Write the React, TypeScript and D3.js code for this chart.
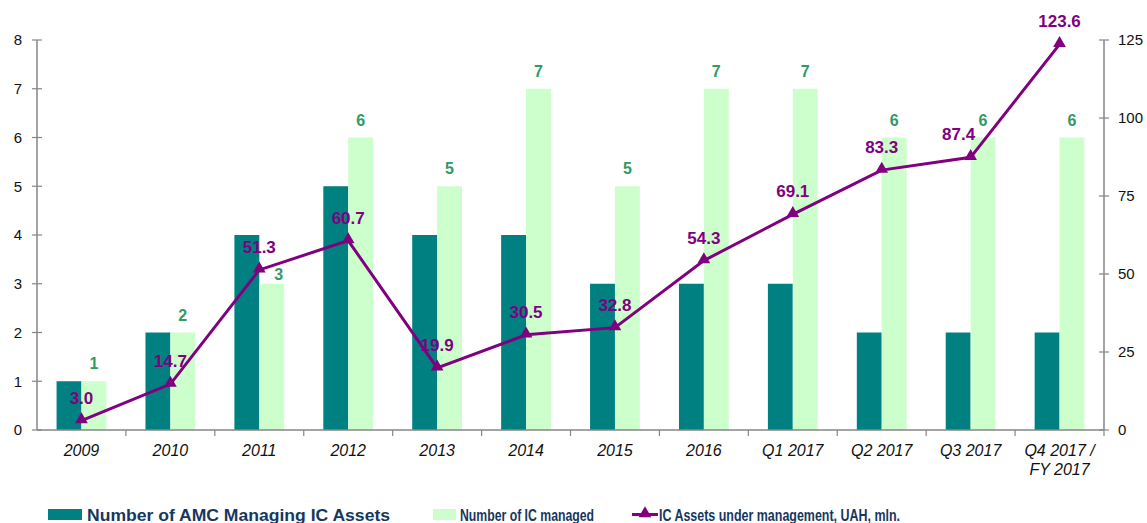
import React from "react";
import * as d3 from "d3";

// chart data
const categories = ["2009", "2010", "2011", "2012", "2013", "2014", "2015", "2016", "Q1 2017", "Q2 2017", "Q3 2017", "Q4 2017 /\nFY 2017"];
const amcCount = [1, 2, 4, 5, 4, 4, 3, 3, 3, 2, 2, 2];
const icCount = [1, 2, 3, 6, 5, 7, 5, 7, 7, 6, 6, 6];
const assets = [3.0, 14.7, 51.3, 60.7, 19.9, 30.5, 32.8, 54.3, 69.1, 83.3, 87.4, 123.6];
const leftTicks = [0, 1, 2, 3, 4, 5, 6, 7, 8];
const rightTicks = [0, 25, 50, 75, 100, 125];

const W = 1147;
const H = 523;
const margin = { left: 37, right: 43, top: 40, bottom: 93 };

const DARK = "#008080";
const LIGHT = "#CCFFCC";
const PURPLE = "#800080";
const GREEN = "#339966";
const AXIS = "#868686";
const LEGEND_TXT = "#17375E";
const FONT = "'Liberation Sans', Arial, sans-serif";

// a couple of labels are nudged in the original to avoid collisions
const assetLabelDx: Record<number, number> = { 10: -12 };
const icLabelNudge: Record<number, [number, number]> = { 2: [7, 8] };

export default function App() {
  const x0 = margin.left;
  const x1 = W - margin.right;
  const y0 = H - margin.bottom;
  const y1 = margin.top;

  const x = d3.scaleBand().domain(categories).range([x0, x1]).padding(0);
  const bw = x.bandwidth();
  const barW = bw * 0.28;

  const yL = d3.scaleLinear().domain([0, 8]).range([y0, y1]);
  const yR = d3.scaleLinear().domain([0, 125]).range([y0, y1]);

  const cx = (c: string) => (x(c) as number) + bw / 2;

  const line = d3
    .line<number>()
    .x((_, i) => cx(categories[i]))
    .y((d) => yR(d));

  const tri = d3.symbol().type(d3.symbolTriangle).size(70)();

  return (
    <svg width={W} height={H} style={{ position: "absolute", left: 0, top: 0, display: "block" }} fontFamily={FONT}>
      <rect width={W} height={H} fill="#fff" />

      {/* bars */}
      {categories.map((c, i) => {
        const [ndx, ndy] = icLabelNudge[i] || [0, 0];
        return (
          <g key={c}>
            <rect x={cx(c) - barW} y={yL(amcCount[i])} width={barW} height={y0 - yL(amcCount[i])} fill={DARK} />
            <rect x={cx(c)} y={yL(icCount[i])} width={barW} height={y0 - yL(icCount[i])} fill={LIGHT} />
            <text x={cx(c) + barW / 2 + ndx} y={yL(icCount[i]) - 12 + ndy} textAnchor="middle" fontSize={16} fontWeight="bold" fill={GREEN}>
              {icCount[i]}
            </text>
          </g>
        );
      })}

      {/* left axis */}
      <line x1={x0} x2={x0} y1={y1} y2={y0} stroke={AXIS} strokeWidth={1.5} />
      {leftTicks.map((t) => (
        <g key={t}>
          <line x1={x0 - 5} x2={x0 + 5} y1={yL(t)} y2={yL(t)} stroke={AXIS} strokeWidth={1.2} />
          <text x={x0 - 15} y={yL(t)} dy="0.35em" textAnchor="end" fontSize={15} fill="#111">
            {t}
          </text>
        </g>
      ))}

      {/* right axis */}
      <line x1={x1} x2={x1} y1={y1} y2={y0} stroke={AXIS} strokeWidth={1.5} />
      {rightTicks.map((t) => (
        <g key={t}>
          <line x1={x1 - 5} x2={x1 + 5} y1={yR(t)} y2={yR(t)} stroke={AXIS} strokeWidth={1.2} />
          <text x={x1 + 14} y={yR(t)} dy="0.35em" textAnchor="start" fontSize={15} fill="#111">
            {t}
          </text>
        </g>
      ))}

      {/* x axis */}
      <line x1={x0} x2={x1} y1={y0} y2={y0} stroke={AXIS} strokeWidth={1.5} />
      {categories.map((c) => (
        <line key={"t" + c} x1={(x(c) as number) + bw} x2={(x(c) as number) + bw} y1={y0} y2={y0 + 6} stroke={AXIS} strokeWidth={1.2} />
      ))}
      {categories.map((c) => (
        <text key={"l" + c} x={cx(c)} y={y0 + 26} textAnchor="middle" fontSize={16} fontStyle="italic" fill="#111">
          {c.split("\n").map((s, k) => (
            <tspan key={k} x={cx(c)} dy={k === 0 ? 0 : 19}>
              {s}
            </tspan>
          ))}
        </text>
      ))}

      {/* line series */}
      <path d={line(assets) || ""} fill="none" stroke={PURPLE} strokeWidth={3} />
      {assets.map((v, i) => (
        <g key={"p" + i}>
          <path d={tri || ""} transform={`translate(${cx(categories[i])},${yR(v) - 1})`} fill={PURPLE} />
          <text x={cx(categories[i]) + (assetLabelDx[i] || 0)} y={yR(v) - 17} textAnchor="middle" fontSize={17} fontWeight="bold" fill={PURPLE}>
            {v.toFixed(1)}
          </text>
        </g>
      ))}

      {/* legend */}
      <g fontSize={16} fontWeight="bold" fill={LEGEND_TXT}>
        <rect x={48} y={509} width={34} height={11} fill={DARK} />
        <text x={87} y={521} textLength={303} lengthAdjust="spacingAndGlyphs">Number of AMC Managing IC Assets</text>
        <rect x={433} y={509} width={23} height={11} fill={LIGHT} />
        <text x={460} y={521} textLength={134} lengthAdjust="spacingAndGlyphs">Number of IC managed</text>
        <line x1={632} x2={658} y1={514.5} y2={514.5} stroke={PURPLE} strokeWidth={3} />
        <path d={tri || ""} transform="translate(645,513.5)" fill={PURPLE} />
        <text x={659} y={521} textLength={241} lengthAdjust="spacingAndGlyphs">IC Assets under management, UAH, mln.</text>
      </g>
    </svg>
  );
}
